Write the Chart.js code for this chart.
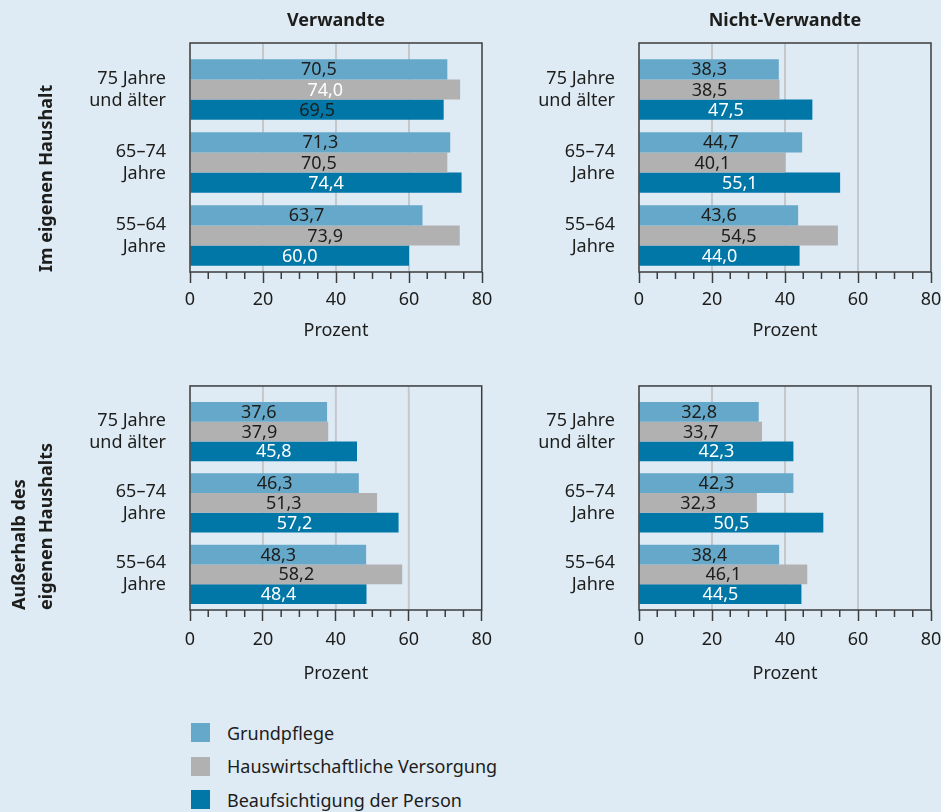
<!DOCTYPE html>
<html>
<head>
  <meta charset="utf-8">
  <title>Pflegeleistungen nach Alter</title>
  <script src="https://cdn.jsdelivr.net/npm/chart.js"></script>
  <style>
    body {
      margin: 0;
      background: #deebf5;
      font-family: "Noto Sans", sans-serif;
      color: #1d1d1b;
    }
    #wrap {
      position: relative;
      width: 941px;
      height: 812px;
      overflow: hidden;
    }
    canvas {
      position: absolute;
    }
    .zeile {
      position: absolute;
      left: 191px;
      height: 19px;
      display: flex;
      align-items: center;
      font-size: 18px;
      white-space: nowrap;
    }
    .kasten {
      width: 19px;
      height: 19px;
      margin-right: 17px;
    }
  </style>
</head>
<body>
<div id="wrap">
  <canvas id="vEigen" width="500" height="350" style="left:0;top:0"></canvas>
  <canvas id="nEigen" width="470" height="350" style="left:490px;top:0"></canvas>
  <canvas id="vAusser" width="500" height="350" style="left:0;top:350px"></canvas>
  <canvas id="nAusser" width="470" height="350" style="left:490px;top:350px"></canvas>
  <div id="legende"></div>
</div>

<script>
  // Daten
  const kategorien = [["75 Jahre", "und älter"], ["65–74", "Jahre"], ["55–64", "Jahre"]];
  const serien = ["Grundpflege", "Hauswirtschaftliche Versorgung", "Beaufsichtigung der Person"];
  const xTicks = [0, 20, 40, 60, 80];

  // Im eigenen Haushalt – Verwandte
  const grundVE = [70.5, 71.3, 63.7];
  const hausVE = [74.0, 70.5, 73.9];
  const aufsichtVE = [69.5, 74.4, 60.0];
  // Im eigenen Haushalt – Nicht-Verwandte
  const grundNE = [38.3, 44.7, 43.6];
  const hausNE = [38.5, 40.1, 54.5];
  const aufsichtNE = [47.5, 55.1, 44.0];
  // Außerhalb – Verwandte
  const grundVA = [37.6, 46.3, 48.3];
  const hausVA = [37.9, 51.3, 58.2];
  const aufsichtVA = [45.8, 57.2, 48.4];
  // Außerhalb – Nicht-Verwandte
  const grundNA = [32.8, 42.3, 38.4];
  const hausNA = [33.7, 32.3, 46.1];
  const aufsichtNA = [42.3, 50.5, 44.5];

  const farben = ['#65a8c9', '#b1b1b1', '#0077a7'];
  const textFarbe = '#1d1d1b';
  const schrift = '"Noto Sans", sans-serif';

  // Rahmen, Gitterlinien, kleine Striche und Wertebeschriftung
  const rahmen = {
    id: 'rahmen',
    beforeDatasetsDraw(chart) {
      const { ctx, chartArea: a, scales: { x } } = chart;
      ctx.save();
      ctx.strokeStyle = '#c3c8cd';
      ctx.lineWidth = 2;
      xTicks.slice(1, -1).forEach(v => {
        const px = x.getPixelForValue(v);
        ctx.beginPath();
        ctx.moveTo(px, a.top - 10);
        ctx.lineTo(px, a.bottom);
        ctx.stroke();
      });
      ctx.restore();
    },
    afterDatasetsDraw(chart) {
      const ctx = chart.ctx;
      ctx.save();
      ctx.font = '18px ' + schrift;
      ctx.textAlign = 'center';
      ctx.textBaseline = 'middle';
      chart.data.datasets.forEach((ds, i) => {
        chart.getDatasetMeta(i).data.forEach((bar, j) => {
          ctx.fillStyle = ds.weiss[j] ? '#ffffff' : textFarbe;
          const txt = ds.data[j].toFixed(1).replace('.', ',');
          ctx.fillText(txt, (bar.x + bar.base) / 2, bar.y + 1);
        });
      });
      ctx.restore();
    },
    afterDraw(chart) {
      const { ctx, chartArea: a, scales: { x } } = chart;
      ctx.save();
      ctx.strokeStyle = '#3c3c3c';
      ctx.lineWidth = 1.5;
      for (let v = 5; v < 80; v += 5) {
        if (v % 20 === 0) continue;
        const px = x.getPixelForValue(v);
        ctx.beginPath();
        ctx.moveTo(px, a.bottom);
        ctx.lineTo(px, a.bottom + 7);
        ctx.stroke();
      }
      ctx.strokeRect(a.left, a.top - 10, a.right - a.left, a.bottom - a.top + 10);
      ctx.restore();
    }
  };

  function diagramm(id, o) {
    new Chart(document.getElementById(id), {
      type: 'bar',
      data: {
        labels: kategorien,
        datasets: o.werte.map((w, i) => ({
          label: serien[i],
          data: w,
          weiss: o.weiss[i],
          backgroundColor: farben[i],
          categoryPercentage: 0.83,
          barPercentage: 1.0
        }))
      },
      options: {
        indexAxis: 'y',
        responsive: false,
        animation: false,
        layout: { padding: { left: 0, right: o.rechts, top: 0, bottom: 0 } },
        plugins: { legend: { display: false }, tooltip: { enabled: false } },
        scales: {
          x: {
            min: 0,
            max: 80,
            ticks: {
              stepSize: 20,
              padding: o.tickPad,
              color: textFarbe,
              font: { family: schrift, size: 18 }
            },
            grid: { drawOnChartArea: false, tickLength: 11, tickColor: '#3c3c3c', tickWidth: 1.5 },
            border: { display: false },
            title: {
              display: true,
              text: 'Prozent',
              color: textFarbe,
              font: { family: schrift, size: 18 },
              padding: { top: 0, bottom: o.prozentPad }
            },
            afterFit: s => { s.height = o.unten; }
          },
          kopf: {
            type: 'linear',
            position: 'top',
            min: 0,
            max: 80,
            grid: { display: false, drawTicks: false },
            border: { display: false },
            ticks: { display: false },
            title: {
              display: !!o.titel,
              text: o.titel || '',
              color: textFarbe,
              font: { family: schrift, size: 18, weight: 'bold' },
              padding: { top: 10, bottom: 0 }
            },
            afterFit: s => { s.height = o.oben; }
          },
          y: {
            grid: { display: false, drawTicks: false },
            border: { display: false },
            ticks: {
              padding: 24,
              color: textFarbe,
              font: { family: schrift, size: 18, lineHeight: 1.22 }
            },
            title: {
              display: !!o.zeile,
              text: o.zeile || '',
              align: 'start',
              color: textFarbe,
              font: { family: schrift, size: 18, weight: 'bold', lineHeight: 1.5 },
              padding: { top: o.zeilePad || 0, bottom: 0 }
            },
            afterFit: s => { s.width = o.links; }
          }
        }
      },
      plugins: [rahmen]
    });
  }

  const weissNein = [false, false, false];
  const weissJa = [true, true, true];

  diagramm('vEigen', {
    werte: [grundVE, hausVE, aufsichtVE],
    weiss: [weissNein, [true, false, false], [false, true, true]],
    titel: 'Verwandte', zeile: 'Im eigenen Haushalt', zeilePad: 33.5,
    links: 190, rechts: 18, oben: 53, unten: 78, tickPad: 6, prozentPad: 8
  });
  diagramm('nEigen', {
    werte: [grundNE, hausNE, aufsichtNE],
    weiss: [weissNein, weissNein, weissJa],
    titel: 'Nicht-Verwandte',
    links: 149, rechts: 29, oben: 53, unten: 78, tickPad: 6, prozentPad: 8
  });
  diagramm('vAusser', {
    werte: [grundVA, hausVA, aufsichtVA],
    weiss: [weissNein, weissNein, weissJa],
    zeile: ['Außerhalb des', 'eigenen Haushalts'], zeilePad: 6.5,
    links: 190, rechts: 18, oben: 42, unten: 90, tickPad: 8, prozentPad: 15
  });
  diagramm('nAusser', {
    werte: [grundNA, hausNA, aufsichtNA],
    weiss: [weissNein, weissNein, weissJa],
    links: 149, rechts: 29, oben: 42, unten: 90, tickPad: 8, prozentPad: 15
  });

  // Legende
  const legende = document.getElementById('legende');
  serien.forEach((name, i) => {
    const z = document.createElement('div');
    z.className = 'zeile';
    z.style.top = (723 + i * 33.5) + 'px';
    z.innerHTML = '<span class="kasten" style="background:' + farben[i] + '"></span>' + name;
    legende.appendChild(z);
  });
</script>
</body>
</html>
